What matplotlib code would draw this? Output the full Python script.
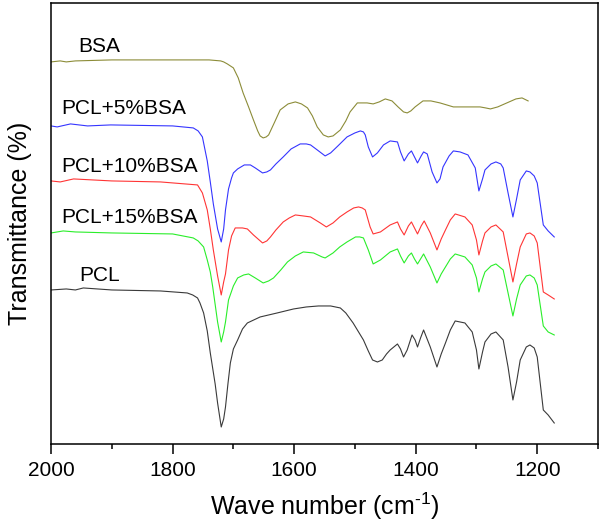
import matplotlib
matplotlib.use("Agg")
from matplotlib import pyplot as plt

# wave numbers (cm-1) and relative transmittance (arbitrary, offset)
bsa_x = [2000, 1985, 1975, 1960, 1900, 1800, 1740, 1721, 1716, 1710, 1700, 1692, 1684, 1675, 1667,
         1660, 1656, 1651, 1646, 1642, 1632, 1623, 1610, 1598, 1588, 1578, 1570, 1562, 1552, 1544,
         1536, 1524, 1515, 1508, 1496, 1480, 1470, 1460, 1450, 1439, 1429, 1420, 1414, 1408, 1401,
         1388, 1375, 1360, 1338, 1315, 1294, 1285, 1277, 1265, 1250, 1235, 1225, 1215]
bsa_y = [382, 383, 382, 383, 384, 384, 384, 383, 382, 380, 376, 366, 351, 337, 324,
         313, 308, 306, 307, 309, 322, 334, 340, 342, 340, 336, 328, 317, 309, 307,
         308, 314, 323, 332, 341, 341, 340, 342, 345, 343, 337, 332, 331, 333, 337,
         343, 343, 341, 337, 337, 337, 336, 335, 337, 341, 345, 346, 343]

pcl5_x = [2000, 1990, 1968, 1940, 1902, 1800, 1766, 1758, 1751, 1743, 1738, 1733, 1726, 1720, 1716,
          1713, 1708, 1703, 1700, 1693, 1682, 1672, 1664, 1652, 1645, 1639, 1630, 1618, 1605, 1590,
          1580, 1573, 1562, 1549, 1540, 1528, 1513, 1500, 1491, 1486, 1483, 1478, 1471, 1463, 1453,
          1442, 1430, 1425, 1419, 1412, 1407, 1402, 1397, 1391, 1387, 1381, 1373, 1365, 1360, 1355,
          1345, 1338, 1327, 1314, 1302, 1296, 1290, 1286, 1276, 1268, 1260, 1256, 1248, 1240, 1234,
          1228, 1218, 1212, 1205, 1200, 1190, 1182, 1172]
pcl5_y = [318, 317, 320, 318, 319, 318, 316, 313, 307, 283, 262, 240, 215, 202, 215,
          234, 255, 266, 271, 275, 279, 279, 276, 271, 272, 274, 280, 287, 295, 300,
          300, 299, 294, 288, 291, 298, 307, 311, 313, 312, 309, 297, 287, 291, 299,
          303, 302, 292, 283, 290, 293, 287, 281, 288, 292, 290, 272, 261, 265, 277,
          288, 293, 292, 289, 276, 253, 265, 274, 280, 282, 280, 276, 251, 227, 245,
          264, 273, 272, 268, 261, 219, 213, 207]

pcl10_x = [2000, 1985, 1963, 1900, 1820, 1759, 1751, 1743, 1738, 1733, 1726, 1720, 1716, 1713, 1708,
           1703, 1697, 1685, 1677, 1667, 1652, 1645, 1639, 1630, 1618, 1608, 1598, 1585, 1573, 1557,
           1547, 1536, 1525, 1513, 1502, 1494, 1488, 1483, 1475, 1470, 1458, 1442, 1430, 1425, 1419,
           1412, 1407, 1402, 1397, 1391, 1386, 1376, 1365, 1358, 1351, 1343, 1335, 1319, 1307, 1300,
           1296, 1290, 1286, 1276, 1268, 1256, 1248, 1240, 1234, 1228, 1218, 1212, 1205, 1200, 1190,
           1182, 1172]
pcl10_y = [263, 262, 265, 263, 262, 259, 251, 234, 215, 194, 168, 149, 162, 170, 194,
           208, 216, 216, 215, 209, 201, 203, 207, 214, 222, 226, 229, 228, 227, 221,
           217, 221, 227, 232, 236, 237, 236, 234, 217, 210, 212, 219, 222, 215, 209,
           218, 222, 216, 210, 218, 223, 211, 194, 205, 214, 224, 230, 227, 219, 204,
           189, 203, 211, 217, 219, 212, 187, 162, 180, 197, 210, 211, 208, 201, 152,
           149, 145]

pcl15_x = [2000, 1980, 1960, 1900, 1800, 1766, 1758, 1749, 1743, 1738, 1734, 1726, 1720, 1716, 1713,
           1708, 1700, 1693, 1683, 1675, 1664, 1651, 1642, 1634, 1622, 1611, 1598, 1585, 1568, 1554,
           1549, 1536, 1525, 1513, 1499, 1492, 1486, 1478, 1470, 1458, 1442, 1430, 1425, 1419, 1412,
           1407, 1402, 1397, 1391, 1387, 1376, 1365, 1358, 1351, 1343, 1335, 1319, 1307, 1300, 1296,
           1290, 1286, 1276, 1268, 1256, 1248, 1240, 1234, 1228, 1218, 1212, 1205, 1200, 1190, 1182,
           1172]
pcl15_y = [211, 213, 212, 211, 210, 206, 203, 197, 184, 172, 157, 122, 102, 112, 122,
           144, 158, 166, 169, 170, 166, 161, 163, 166, 174, 182, 188, 192, 191, 187,
           186, 191, 197, 202, 207, 207, 206, 194, 180, 184, 192, 195, 188, 181, 188,
           191, 185, 180, 186, 190, 177, 161, 170, 177, 185, 190, 187, 179, 166, 152,
           165, 172, 178, 180, 174, 151, 128, 145, 159, 168, 169, 166, 159, 118, 112,
           109]

pcl_x = [2000, 1975, 1960, 1947, 1900, 1820, 1776, 1767, 1759, 1755, 1749, 1743, 1738, 1730, 1726,
         1720, 1716, 1713, 1709, 1705, 1700, 1693, 1685, 1677, 1656, 1628, 1601, 1580, 1560, 1540,
         1524, 1515, 1503, 1495, 1486, 1478, 1471, 1463, 1455, 1448, 1442, 1430, 1425, 1420, 1414,
         1406, 1401, 1397, 1392, 1387, 1376, 1365, 1358, 1351, 1343, 1335, 1319, 1307, 1300, 1296,
         1290, 1286, 1276, 1268, 1256, 1248, 1240, 1234, 1228, 1218, 1212, 1205, 1200, 1190, 1182,
         1172]
pcl_y = [154, 155, 154, 156, 154, 153, 151, 149, 146, 141, 131, 113, 91, 60, 41,
         17, 25, 37, 60, 81, 95, 104, 115, 121, 127, 131, 135, 137, 138, 138,
         136, 131, 121, 113, 104, 93, 84, 82, 84, 90, 94, 100, 95, 87, 94,
         109, 104, 97, 106, 114, 97, 77, 90, 101, 114, 123, 121, 112, 94, 75,
         92, 102, 110, 112, 104, 77, 44, 62, 84, 97, 99, 96, 87, 34, 29,
         21]

names = ["BSA", "PCL+5%BSA", "PCL+10%BSA", "PCL+15%BSA", "PCL"]
colors = ["#8c8c38", "#3535ff", "#ff3535", "#2aee2a", "#3a3a3a"]
label_x = [1956, 1984, 1984, 1983, 1953]
label_y = [397, 335, 277, 226, 168]


def draw_graph():
    plt.rcParams['font.family'] = ['Liberation Sans', 'DejaVu Sans']
    plt.rcParams['mathtext.fontset'] = 'custom'
    plt.rcParams['mathtext.rm'] = 'Liberation Sans'
    plt.rcParams['mathtext.it'] = 'Liberation Sans:italic'
    fig = plt.figure(figsize=(6.01, 5.27), dpi=100)
    ax = fig.add_axes([0.085, 0.1575, 0.91, 0.837])

    series = [(bsa_x, bsa_y), (pcl5_x, pcl5_y), (pcl10_x, pcl10_y),
              (pcl15_x, pcl15_y), (pcl_x, pcl_y)]
    for (xs, ys), c in zip(series, colors):
        ax.plot(xs, ys, color=c, lw=0.8)

    for name, tx, ty in zip(names, label_x, label_y):
        ax.text(tx, ty, name, fontsize=15, ha='left', va='center')

    ax.set_xlim(2000, 1100)
    ax.set_ylim(0, 441)
    ax.set_xticks([2000, 1800, 1600, 1400, 1200])
    ax.set_xticks(range(1900, 1099, -200), minor=True)
    ax.tick_params(axis='x', which='major', direction='out', length=7, width=1.1, labelsize=15, pad=5)
    ax.tick_params(axis='x', which='minor', direction='out', length=3.5, width=1.1)
    ax.set_yticks([])
    for s in ax.spines.values():
        s.set_linewidth(1.1)

    ax.set_xlabel("Wave number (cm$^{\\mathrm{\u2010}\\mathrm{1}}$)", fontsize=18, labelpad=8)
    ax.set_ylabel("Transmittance (%)", fontsize=18, labelpad=14)

    fig.savefig("out.png", dpi=100)


draw_graph()
